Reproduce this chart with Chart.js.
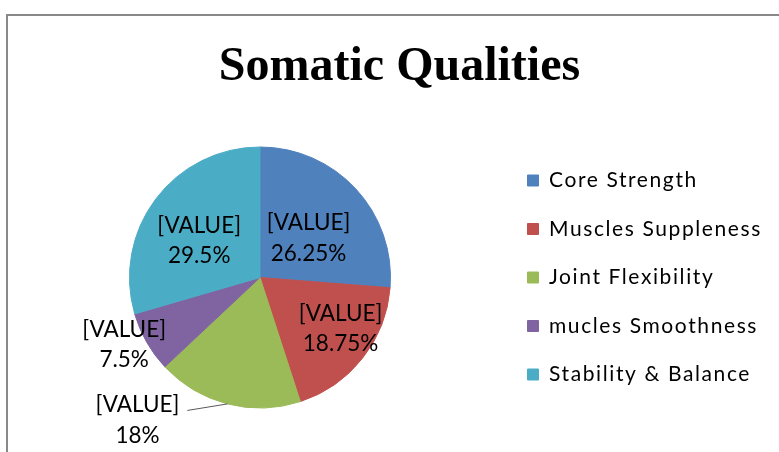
<!DOCTYPE html>
<html>
<head>
<meta charset="utf-8">
<script src="https://cdn.jsdelivr.net/npm/chart.js@4/dist/chart.umd.min.js"></script>
<style>
  html, body { margin: 0; padding: 0; background: #fff; }
  #wrap { position: relative; width: 779px; height: 452px; overflow: hidden; }
  #c { position: absolute; left: 0; top: 0; }
  #frame { position: absolute; left: 6px; top: 14px; width: 900px; height: 600px;
           border-top: 2px solid #898989; border-left: 2px solid #898989; pointer-events: none; }
</style>
</head>
<body>
<div id="wrap">
  <canvas id="c" width="779" height="452"></canvas>
  <div id="frame"></div>
</div>
<script>
// ---- data ----
const chartTitle = 'Somatic Qualities';
const categories = ['Core Strength', 'Muscles Suppleness', 'Joint Flexibility', 'mucles Smoothness', 'Stability & Balance'];
const values = [26.25, 18.75, 18, 7.5, 29.5];
const labelPrefix = '[VALUE]';

// ---- styling ----
const colors = ['#4F81BD', '#C0504D', '#9BBB59', '#8064A2', '#4BACC6'];
const FONT = 'Lato, "Noto Sans", sans-serif';
const LEGEND_SIZE = 21;
const LEGEND_SPACING = '1.6px';
const LEGEND_LEFT = 500;      // legend box left edge (box square starts at +padding)
const LEGEND_PAD = 27.5;
const TITLE_CENTER_X = 399.5;
const LABEL_SIZE = 22.5;
// label placement relative to each slice (radius fraction, angle offset in degrees)
const labelPlacement = [
  { r: 0.48, da: 3.5 },
  { r: 0.73, da: -6 },
  { r: 1.44, da: 26.3, leader: true },
  { r: 1.16, da: 3.5 },
  { r: 0.545, da: -5.7 }
];

// measure widest legend text so the chart area ends where the legend begins
const mctx = document.createElement('canvas').getContext('2d');
mctx.font = LEGEND_SIZE + 'px ' + FONT;
let maxText = 0;
categories.forEach(t => { maxText = Math.max(maxText, mctx.measureText(t).width); });
const itemWidth = 11 + LEGEND_SIZE / 2 + maxText;
const padRight = Math.max(0, 779 - LEGEND_LEFT - (LEGEND_PAD + itemWidth + 10));

const placeBoxes = {
  id: 'placeBoxes',
  afterLayout(chart) {
    const ca = chart.chartArea;
    const lg = chart.legend;
    if (lg) {
      const mid = (ca.top + ca.bottom) / 2;
      lg.left = LEGEND_LEFT; lg.right = 779; lg.width = 779 - LEGEND_LEFT;
      lg.top = mid - 160; lg.bottom = mid + 160; lg.height = 320;
      if (!lg._spacedDraw) {
        const orig = lg.draw;
        lg.draw = function (...args) {
          const ctx = this.ctx;
          const prev = ctx.letterSpacing;
          ctx.letterSpacing = LEGEND_SPACING;
          orig.apply(this, args);
          ctx.letterSpacing = prev || '0px';
        };
        lg._spacedDraw = true;
      }
    }
    const tb = chart.titleBlock;
    if (tb) {
      const shift = TITLE_CENTER_X - (tb.left + tb.right) / 2;
      tb.left += shift; tb.right += shift;
    }
  }
};

const dataLabels = {
  id: 'dataLabels',
  afterDatasetsDraw(chart) {
    const ctx = chart.ctx;
    const meta = chart.getDatasetMeta(0);
    ctx.save();
    ctx.font = LABEL_SIZE + 'px ' + FONT;
    ctx.fillStyle = '#000';
    ctx.textAlign = 'center';
    ctx.textBaseline = 'middle';
    meta.data.forEach((arc, i) => {
      const p = arc.getProps(['x', 'y', 'startAngle', 'endAngle', 'outerRadius'], true);
      const mid = (p.startAngle + p.endAngle) / 2;
      const pl = labelPlacement[i];
      const a = mid + pl.da * Math.PI / 180;
      const lx = p.x + Math.cos(a) * p.outerRadius * pl.r;
      const ly = p.y + Math.sin(a) * p.outerRadius * pl.r;
      const l1 = labelPrefix;
      const l2 = values[i] + '%';
      ctx.fillText(l1, lx, ly - 15);
      ctx.fillText(l2, lx, ly + 15.5);
      if (pl.leader) {
        const w = ctx.measureText(l1).width;
        const ex = p.x + Math.cos(mid) * p.outerRadius;
        const ey = p.y + Math.sin(mid) * p.outerRadius;
        ctx.beginPath();
        ctx.strokeStyle = '#595959';
        ctx.lineWidth = 1;
        ctx.moveTo(lx + w / 2 + 8, ly - 9.5);
        ctx.lineTo(ex, ey);
        ctx.stroke();
      }
    });
    ctx.restore();
  }
};

new Chart(document.getElementById('c'), {
  type: 'pie',
  data: {
    labels: categories,
    datasets: [{
      data: values,
      backgroundColor: colors,
      borderColor: colors,
      borderWidth: 1
    }]
  },
  options: {
    responsive: false,
    animation: false,
    layout: { padding: { left: 20, right: padRight, top: 0, bottom: 43.5 } },
    plugins: {
      title: {
        display: true,
        text: chartTitle,
        color: '#000',
        font: { family: '"Liberation Serif", "Times New Roman", serif', size: 48, weight: 'bold', lineHeight: 1.2 },
        padding: { top: 39.2, bottom: 49.7 }
      },
      legend: {
        position: 'right',
        align: 'center',
        labels: {
          color: '#000',
          boxWidth: 11,
          boxHeight: 11,
          padding: LEGEND_PAD,
          font: { family: FONT, size: LEGEND_SIZE }
        }
      },
      tooltip: { enabled: false }
    }
  },
  plugins: [placeBoxes, dataLabels]
});
</script>
</body>
</html>
